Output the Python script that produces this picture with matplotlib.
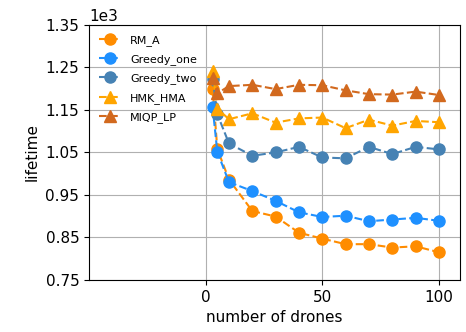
import matplotlib
matplotlib.use("Agg")
import matplotlib.pyplot as plt

drones = [3, 5, 10, 20, 30, 40, 50, 60, 70, 80, 90, 100]

rm_a = [1200, 1058, 986, 912, 899, 861, 847, 834, 834, 826, 829, 815]
greedy_one = [1156, 1051, 980, 959, 936, 909, 898, 901, 888, 892, 896, 889]
greedy_two = [1223, 1140, 1071, 1042, 1050, 1063, 1038, 1036, 1063, 1046, 1063, 1057]
hmk_hma = [1242, 1153, 1128, 1142, 1120, 1130, 1132, 1107, 1127, 1113, 1124, 1121]
miqp_lp = [1226, 1189, 1206, 1209, 1199, 1209, 1208, 1196, 1187, 1186, 1193, 1185]

yticks = [750, 850, 950, 1050, 1150, 1250, 1350]
xticks = [0, 50, 100]

plt.rcParams["font.size"] = 11

fig = plt.figure(figsize=(4.66, 3.32), dpi=100)
ax = fig.add_axes([0.191, 0.157, 0.796, 0.768])

ms = 8
ax.plot(drones, rm_a, "o--", color="darkorange", markersize=ms, label="RM_A")
ax.plot(drones, greedy_one, "o--", color="dodgerblue", markersize=ms, label="Greedy_one")
ax.plot(drones, greedy_two, "o--", color="steelblue", markersize=ms, label="Greedy_two")
ax.plot(drones, hmk_hma, "^--", color="orange", markersize=ms, label="HMK_HMA")
ax.plot(drones, miqp_lp, "^--", color="chocolate", markersize=ms, label="MIQP_LP")

ax.set_xlim(-50, 109)
ax.set_ylim(750, 1350)
ax.set_xticks(xticks)
ax.set_yticks(yticks)
ax.ticklabel_format(axis="y", style="sci", scilimits=(3, 3))
ax.grid(True, color="#b0b0b0")
ax.set_xlabel("number of drones")
ax.set_ylabel("lifetime")
ax.legend(loc="upper left", frameon=False, fontsize=8, labelspacing=0.75)

fig.savefig("out.png", dpi=100)
